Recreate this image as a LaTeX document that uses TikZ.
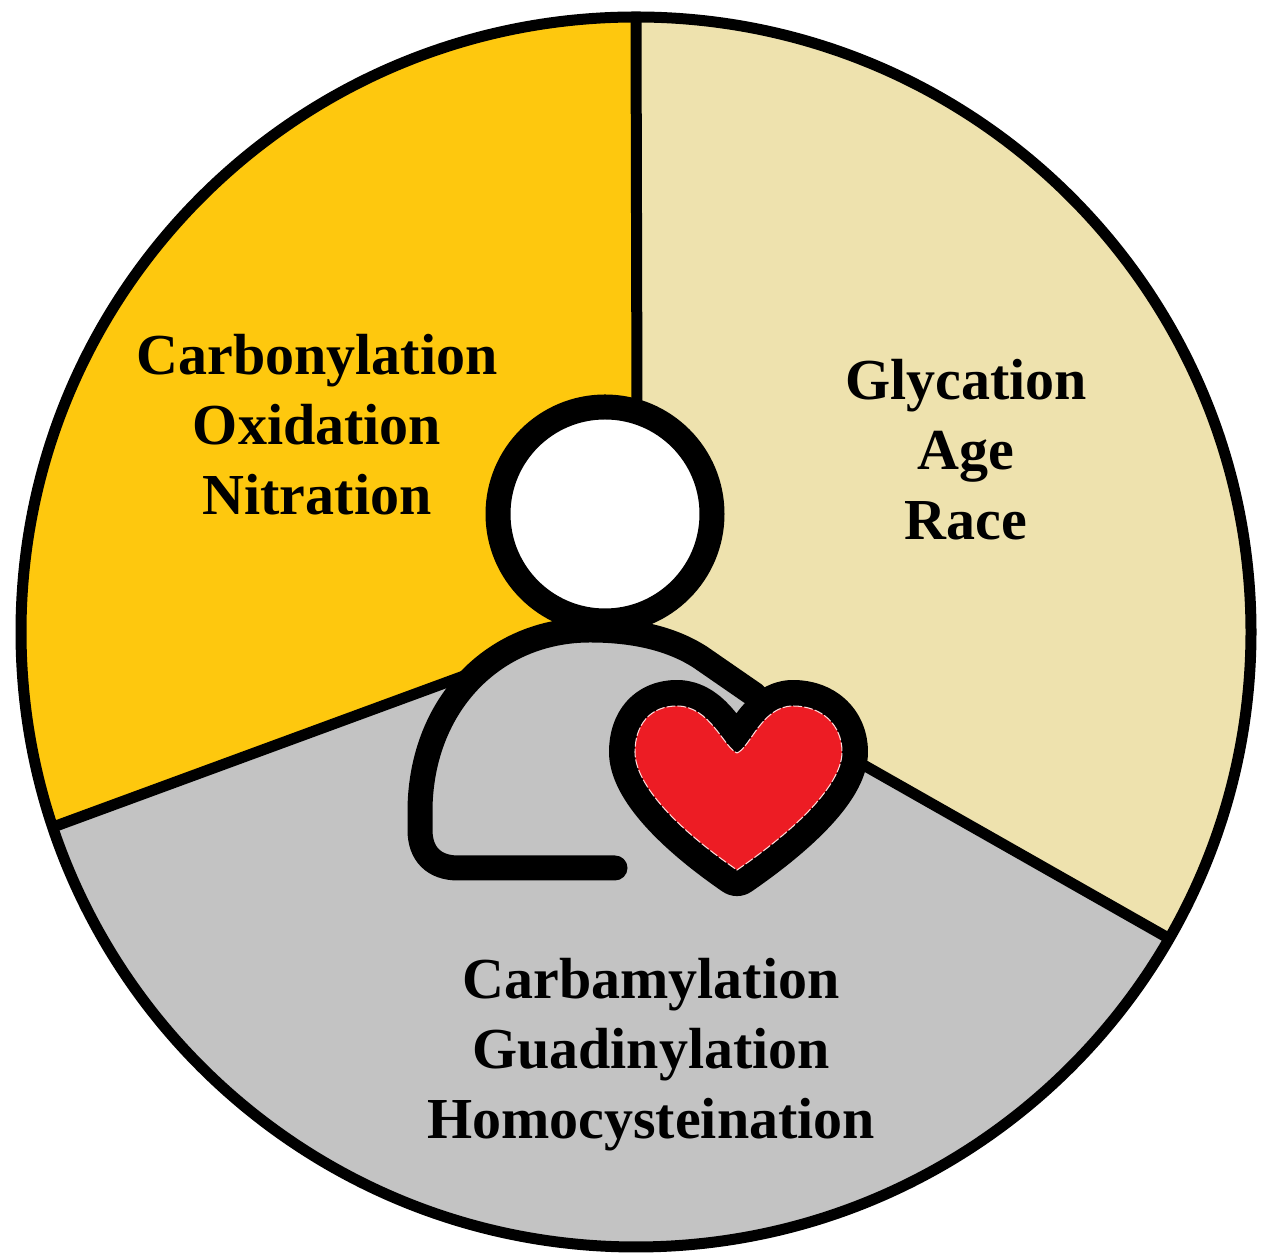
\documentclass[tikz,border=0pt]{standalone}
\usepackage{fontspec}
\setmainfont{Liberation Serif}

\definecolor{oxyellow}{HTML}{FEC80E}
\definecolor{glybeige}{HTML}{EEE2AE}
\definecolor{carbgray}{HTML}{C3C3C3}
\definecolor{heartred}{HTML}{ED1C24}

\tikzset{
    rimline/.style={black, line width=0.11cm},
    bodyline/.style={black, line width=0.25cm, line cap=round, line join=round},
    sectorlabel/.style={align=center, font=\fontsize{16.5}{19.9}\selectfont\bfseries, text=black}
}

\newcommand{\heartpath}{(7.37,5.00) .. controls (7.50,5.05) and (7.62,5.47) .. (7.93,5.47)
    .. controls (8.22,5.47) and (8.42,5.28) .. (8.42,5.01)
    .. controls (8.42,4.72) and (8.05,4.30) .. (7.37,3.83)
    .. controls (6.69,4.30) and (6.35,4.72) .. (6.35,5.01)
    .. controls (6.35,5.28) and (6.50,5.47) .. (6.77,5.47)
    .. controls (7.10,5.47) and (7.24,5.05) .. (7.37,5.00) -- cycle}
\newcommand{\bodypath}{(6.15,3.85) -- (4.58,3.85)
    .. controls (4.34,3.85) and (4.20,3.99) .. (4.20,4.23) -- (4.20,4.45)
    .. controls (4.22,5.50) and (4.95,6.23) .. (5.90,6.23)
    .. controls (6.40,6.23) and (6.75,6.12) .. (7.00,5.96) -- (7.55,5.58)}

\begin{document}
\begin{tikzpicture}

\useasboundingbox (0,0) rectangle (12.61,12.53);

% wheel centre and the points on the rim
\coordinate (hub) at (6.36,6.21);
\coordinate (rimtop) at ([shift={(90:6.15)}]hub);
\coordinate (rimleft) at ([shift={(198.5:6.15)}]hub);
\coordinate (rimright) at ([shift={(-29.9:6.15)}]hub);
\coordinate (headtop) at (6.37,8.40);
\coordinate (bodyleft) at (4.72,5.80);
\coordinate (heartright) at (8.60,4.90);

% sectors
\fill[oxyellow] (bodyleft) -- (hub) -- (rimtop) arc[start angle=90, end angle=198.5, radius=6.15] -- cycle;
\fill[glybeige] (hub) -- (rimtop) arc[start angle=90, end angle=-29.9, radius=6.15] -- cycle;
\fill[carbgray] (hub) -- (bodyleft) -- (rimleft) arc[start angle=198.5, end angle=330.1, radius=6.15] -- cycle;

% body fill
\fill[carbgray] \bodypath -- cycle;

% dividing lines
\draw[rimline] (rimtop) -- (headtop);
\draw[rimline] (rimleft) -- (bodyleft);
\draw[rimline] (rimright) -- (heartright);

% rim
\draw[rimline] (hub) circle (6.15);

% person
\draw[bodyline] \bodypath;
\draw[black, line width=0.25cm, fill=white] (6.05,7.39) circle (1.07);

% heart
\draw[black, line width=0.52cm, line join=round] \heartpath;
\fill[heartred] \heartpath;
\draw[white!85!red, line width=0.3pt, dash pattern=on 2.5pt off 0.6pt] \heartpath;

% labels
\node[sectorlabel] (oxlabel) at (3.17,8.28) {Carbonylation\\Oxidation\\Nitration};
\node[sectorlabel] (glylabel) at (9.66,8.03) {Glycation\\Age\\Race};
\node[sectorlabel] (carblabel) at (6.51,1.98) {Carbamylation\\Guadinylation\\Homocysteination};

\end{tikzpicture}
\end{document}
